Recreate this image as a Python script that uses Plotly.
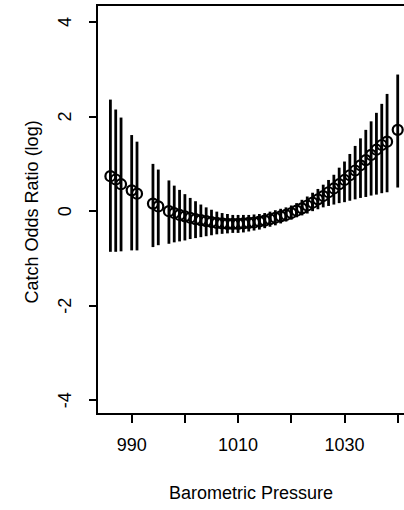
import plotly.graph_objects as go

pressure = [986, 987, 988, 990, 991, 994, 995, 997, 998, 999, 1000, 1001, 1002, 1003,
            1004, 1005, 1006, 1007, 1008, 1009, 1010, 1011, 1012, 1013, 1014, 1015, 1016,
            1017, 1018, 1019, 1020, 1021, 1022, 1023, 1024, 1025, 1026, 1027, 1028, 1029,
            1030, 1031, 1032, 1033, 1034, 1035, 1036, 1037, 1038, 1040]

log_odds = [0.74, 0.67, 0.57, 0.44, 0.37, 0.16, 0.10, 0.00, -0.04, -0.08, -0.11, -0.14,
            -0.17, -0.19, -0.21, -0.23, -0.25, -0.26, -0.27, -0.27, -0.27, -0.26, -0.25,
            -0.24, -0.22, -0.20, -0.17, -0.14, -0.11, -0.08, -0.04, 0.01, 0.06, 0.12, 0.18,
            0.25, 0.32, 0.40, 0.48, 0.57, 0.66, 0.76, 0.86, 0.97, 1.08, 1.19, 1.30, 1.40,
            1.47, 1.72]

lower = [-0.86, -0.86, -0.85, -0.83, -0.83, -0.76, -0.72, -0.69, -0.66, -0.64, -0.62,
         -0.59, -0.57, -0.55, -0.53, -0.51, -0.49, -0.48, -0.47, -0.46, -0.46, -0.45,
         -0.43, -0.41, -0.39, -0.36, -0.33, -0.30, -0.26, -0.22, -0.18, -0.13, -0.09,
         -0.05, 0.00, 0.04, 0.08, 0.11, 0.14, 0.17, 0.19, 0.22, 0.25, 0.28, 0.30, 0.33,
         0.35, 0.38, 0.40, 0.50]

upper = [2.36, 2.15, 1.98, 1.61, 1.47, 1.00, 0.88, 0.65, 0.54, 0.45, 0.36, 0.28, 0.21,
         0.14, 0.08, 0.03, -0.01, -0.04, -0.06, -0.08, -0.08, -0.08, -0.08, -0.07, -0.06,
         -0.04, -0.01, 0.02, 0.05, 0.08, 0.12, 0.17, 0.24, 0.31, 0.39, 0.47, 0.56, 0.66,
         0.77, 0.92, 1.05, 1.21, 1.38, 1.54, 1.72, 1.90, 2.08, 2.27, 2.48, 2.89]

x_ticks = [990, 1000, 1010, 1020, 1030, 1040]
x_tick_labels = ["990", "", "1010", "", "1030", ""]
y_ticks = [-4, -2, 0, 2, 4]
y_tick_labels = ["-4", "-2", "0", "2", "4"]
x_title = "Barometric Pressure"
y_title = "Catch Odds Ratio (log)"

err_plus = [u - m for u, m in zip(upper, log_odds)]
err_minus = [m - l for m, l in zip(log_odds, lower)]

font_family = "Liberation Sans, Arial, Helvetica, sans-serif"
txt_font = dict(size=18, family=font_family, color="black")

fig = go.Figure()
fig.add_trace(go.Scatter(
    x=pressure, y=log_odds, mode="markers",
    marker=dict(symbol="circle-open", size=10, color="black", line=dict(width=2.2, color="black")),
    error_y=dict(type="data", symmetric=False, array=err_plus, arrayminus=err_minus,
                 thickness=2.8, width=0, color="black"),
    showlegend=False, cliponaxis=False, hoverinfo="skip",
))

# rotated y tick labels, positioned on the y scale
y_label_annotations = [
    dict(text=lab, xref="paper", yref="y", x=(65 - 98) / 312, y=val,
         xanchor="center", yanchor="middle", showarrow=False, textangle=-90, font=txt_font)
    for val, lab in zip(y_ticks, y_tick_labels)
]

# plot area spans 98..410 px (right edge falls just outside the 404 px window)
fig.update_layout(
    width=410, height=510,
    margin=dict(l=98, r=0, t=6, b=97, autoexpand=False),
    paper_bgcolor="white", plot_bgcolor="white",
    font=dict(family=font_family, size=18, color="black"),
    xaxis=dict(
        range=[983.67, 1042.31], tickmode="array", tickvals=x_ticks, ticktext=x_tick_labels,
        showgrid=False, zeroline=False, showline=True, linecolor="black", linewidth=2,
        mirror=True, ticks="outside", ticklen=8, tickwidth=2, tickcolor="black",
        ticklabelstandoff=6, automargin=False,
    ),
    yaxis=dict(
        range=[-4.27, 4.34], tickmode="array", tickvals=y_ticks,
        showticklabels=False,
        showgrid=False, zeroline=False, showline=True, linecolor="black", linewidth=2,
        mirror=False, ticks="outside", ticklen=7, tickwidth=2, tickcolor="black",
        automargin=False,
    ),
    annotations=y_label_annotations + [
        dict(text=x_title, xref="paper", yref="paper", x=(251 - 98) / 312, y=-0.1966,
             xanchor="center", yanchor="middle", showarrow=False, font=txt_font),
        dict(text=y_title, xref="paper", yref="paper", x=(31.5 - 98) / 312, y=0.494,
             xanchor="center", yanchor="middle", showarrow=False, textangle=-90, font=txt_font),
    ],
)

fig.write_html("out.html", config={"displayModeBar": False},
               post_script="document.body.style.margin='0px';document.body.style.overflow='hidden';")
